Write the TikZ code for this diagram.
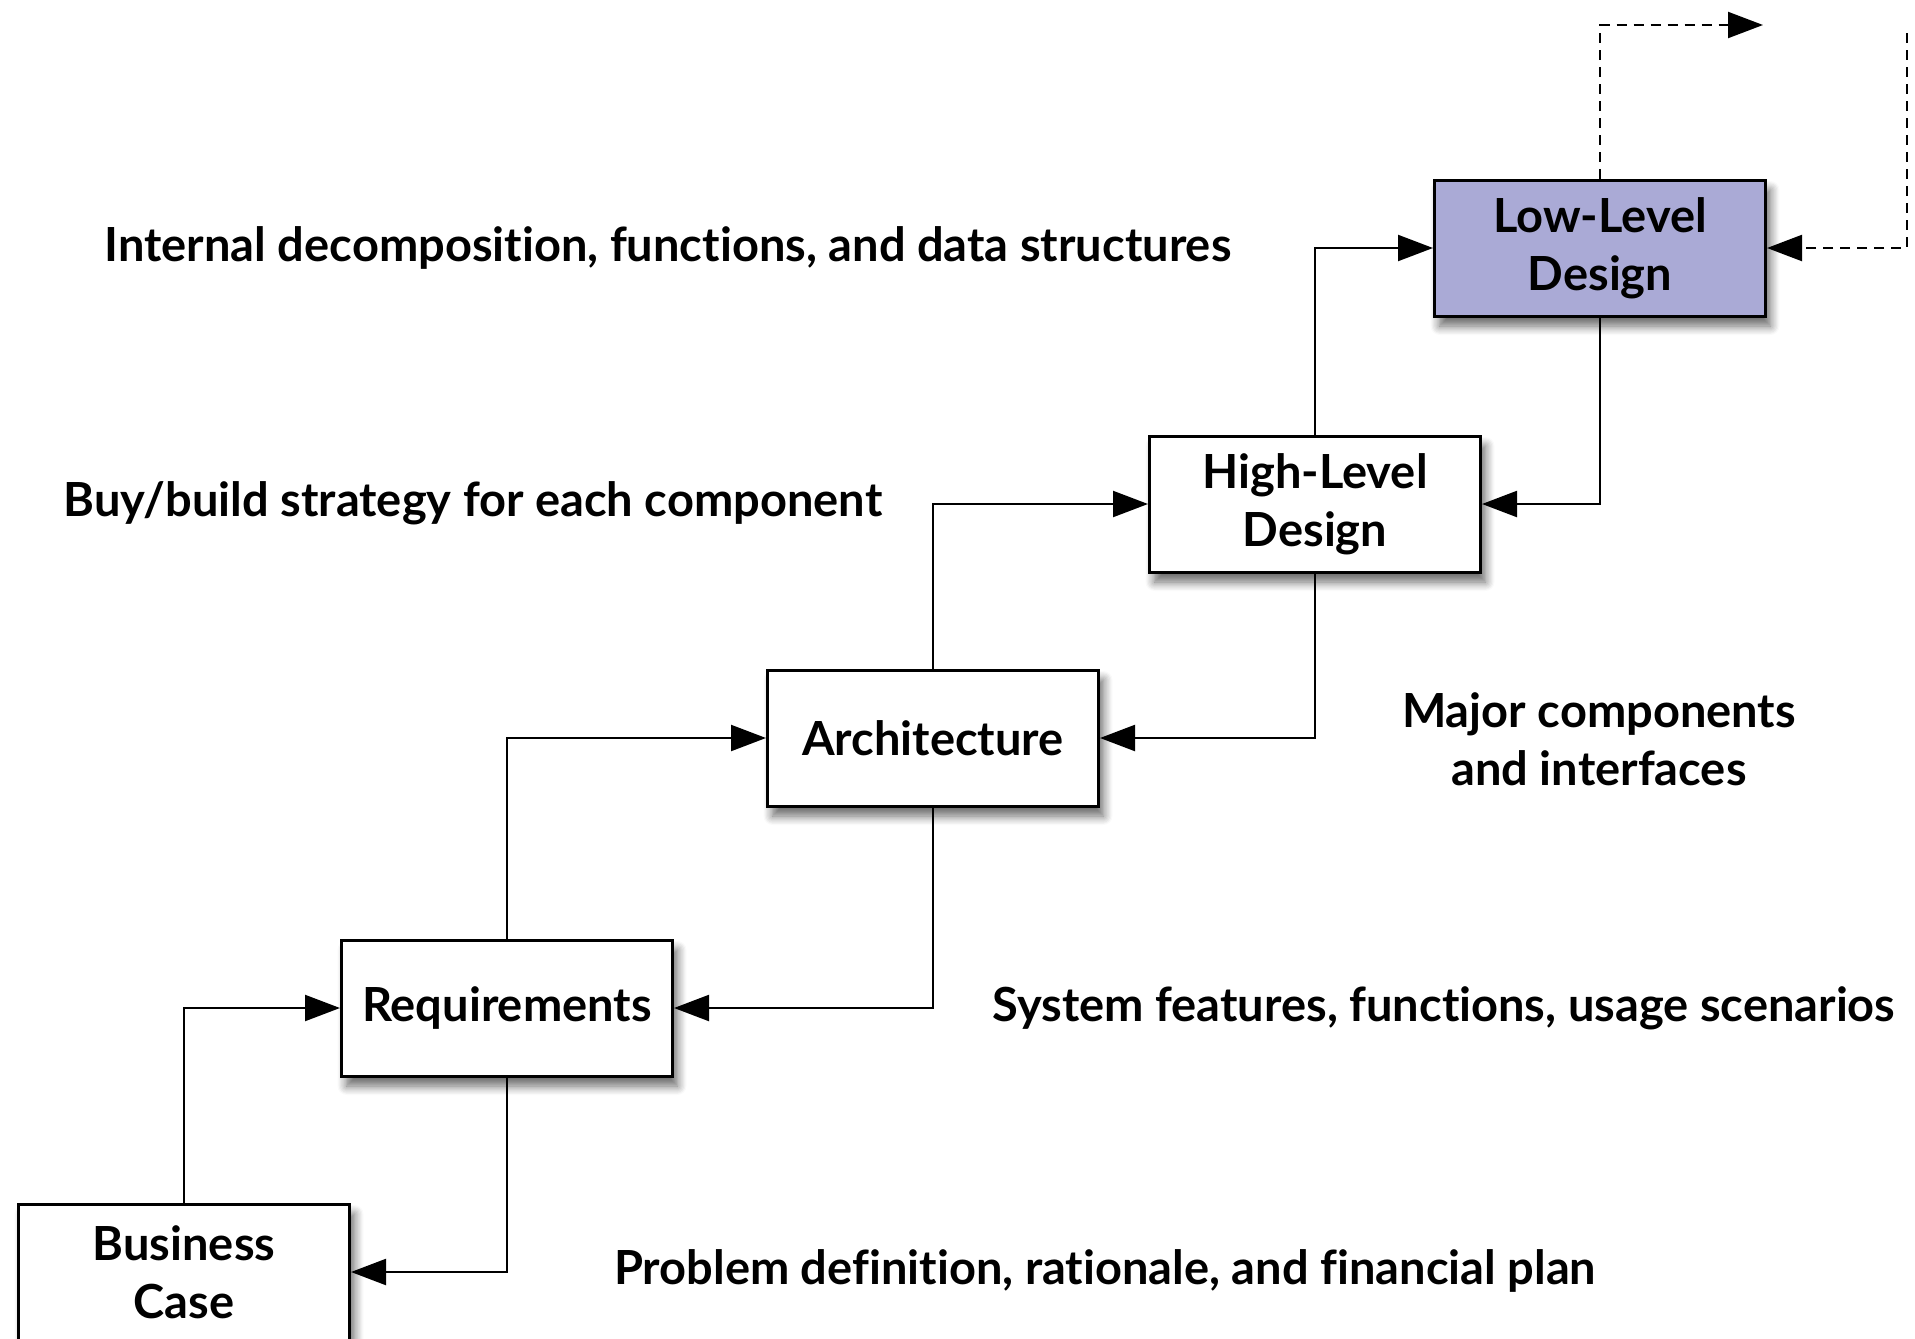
\documentclass[tikz,border=0pt]{standalone}
\usepackage{fontspec}
\setmainfont{Lato}[Ligatures=CommonOff]
\usetikzlibrary{arrows.meta,shadows.blur}
\definecolor{lldfill}{RGB}{170,170,214}
\tikzset{
  stage/.style={draw=black, line width=3pt, fill=white, minimum width=331pt, minimum height=136pt,
    inner sep=0pt, align=center, font=\fontsize{47}{58}\selectfont\bfseries,
    blur shadow={shadow xshift=5pt, shadow yshift=-10pt, shadow blur steps=8, shadow opacity=60, shadow blur radius=9pt}},
  lbl/.style={align=center, inner sep=0pt, font=\fontsize{47}{58}\selectfont\bfseries},
  flow/.style={line width=2.2pt, -{Triangle[length=35pt,width=26pt]}},
  dflow/.style={flow, dash pattern=on 10pt off 7pt},
}
\begin{document}
\begin{tikzpicture}[x=1pt,y=-1pt]
\useasboundingbox (0,0) rectangle (1915,1339);
\node[stage] (bc)  at (184,1272) {Business\\Case};
\node[stage] (req) at (507,1008) {Requirements};
\node[stage] (arc) at (933,738) {Architecture};
\node[stage] (hld) at (1315,504) {High-Level\\Design};
\node[stage, fill=lldfill] (lld) at (1600,248) {Low-Level\\Design};
\coordinate (out) at (1763,25);
\coordinate (in) at (1907,33);
\draw[flow] (bc.north) |- (req.west);
\draw[flow] (req.south) |- (bc.east);
\draw[flow] (req.north) |- (arc.west);
\draw[flow] (arc.south) |- (req.east);
\draw[flow] (arc.north) |- (hld.west);
\draw[flow] (hld.south) |- (arc.east);
\draw[flow] (hld.north) |- (lld.west);
\draw[flow] (lld.south) |- (hld.east);
\draw[dflow] (lld.north) |- (out);
\draw[dflow] (in) |- (lld.east);
\node[lbl] (t1) at (668,248) {Internal decomposition, functions, and data structures};
\node[lbl] (t2) at (473,503) {Buy/build strategy for each component};
\node[lbl] (t3) at (1599,739) {Major components\\and interfaces};
\node[lbl] (t4) at (1444,1008) {System features, functions, usage scenarios};
\node[lbl] (t5) at (1105,1271) {Problem definition, rationale, and financial plan};
\end{tikzpicture}
\end{document}
